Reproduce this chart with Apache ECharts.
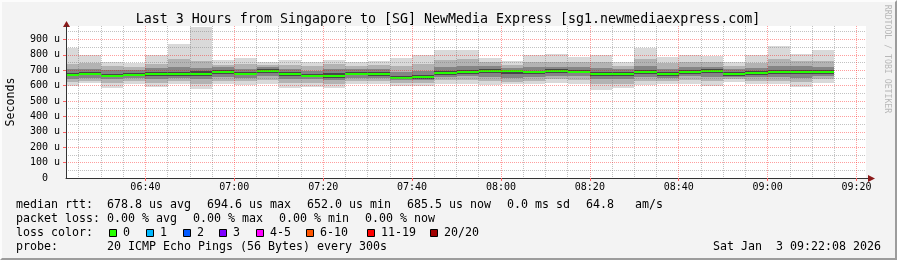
<!DOCTYPE html>
<html><head><meta charset="utf-8">
<script src="https://cdn.jsdelivr.net/npm/echarts@6/dist/echarts.min.js"></script>
<style>
html,body{margin:0;padding:0;background:#f3f3f3;}
#wrap{position:relative;width:897px;height:260px;overflow:hidden;}
#c{position:absolute;left:0;top:0;width:897px;height:260px;}
#frame{position:absolute;left:0;top:0;width:897px;height:260px;box-sizing:border-box;border-left:2px solid #fcfcfc;border-top:2px solid #fcfcfc;border-right:2px solid #9c9c9c;border-bottom:2px solid #9c9c9c;pointer-events:none;}
</style></head>
<body><div id="wrap"><div id="c"></div><div id="frame"></div></div>
<script>
// ---------- data (µs) ----------
const startTime = '06:22:08';
const endTime = '09:22:08';
const times = ['06:25','06:30','06:35','06:40','06:45','06:50','06:55','07:00','07:05','07:10',
  '07:15','07:20','07:25','07:30','07:35','07:40','07:45','07:50','07:55','08:00',
  '08:05','08:10','08:15','08:20','08:25','08:30','08:35','08:40','08:45','08:50',
  '08:55','09:00','09:05','09:10','09:15'];
const median = [672,678,665,672,677,674,678,690,678,694.6,
  674,665,665,678,674,652,655,681,690,694,
  692,686,694,690,676,673,690,674,690,694,
  674,681,690,690,685.5];
const pingMin = [599,616,583,609,592,609,577,609,603,613,583,592,583,609,609,599,599,613,613,603,609,609,616,609,570,583,603,609,609,599,625,609,609,592,620];
const p10 = [625,632,615,628,620,628,612,632,628,638,615,618,612,630,628,618,620,635,638,630,625,632,640,635,608,612,630,630,635,628,640,632,632,622,640];
const p25 = [645,650,640,648,645,650,642,655,650,660,642,640,638,650,648,634,636,655,660,655,648,658,665,660,640,640,658,652,660,655,655,655,658,650,660];
const p40 = [662,666,655,662,665,664,664,675,667,682,660,655,652,666,662,645,646,670,678,680,678,675,684,680,662,662,678,664,675,680,665,670,678,675,675];
const p60 = [685,690,678,684,690,690,692,702,690,706,688,678,680,690,686,665,668,695,702,706,702,698,705,704,690,688,702,688,702,706,688,695,704,704,700];
const p75 = [705,708,700,700,712,720,715,718,710,718,710,698,705,708,705,690,695,720,725,725,716,720,722,722,715,708,725,710,722,722,708,715,725,725,722];
const p90 = [740,745,725,722,740,770,760,735,740,732,735,725,738,730,732,725,740,765,770,750,735,755,755,750,750,728,770,745,752,750,730,745,770,760,760];
const pingMax = [843,800,752,745,800,869,982,765,778,750,765,750,765,754,761,778,797,830,830,776,761,797,804,787,800,750,843,787,800,793,754,797,854,808,830];
const xTickLabels = ['06:40','07:00','07:20','07:40','08:00','08:20','08:40','09:00','09:20'];
const yTickValues = [0,100,200,300,400,500,600,700,800,900];
const yMinorValues = [50,150,250,350,450,550,650,750,850,950];
const lossLabels = ['0','1','2','3','4-5','6-10','11-19','20/20'];
const lossColors = ['#26ff00','#00b8ff','#0059ff','#7e00ff','#ff00ff','#ff5500','#ff0000','#a10000'];

// ---------- helpers ----------
function toMin(s){const p=s.split(':').map(Number);return p[0]*60+p[1]+(p[2]||0)/60;}
function pad(n){return (n<10?'0':'')+n;}
function fmtMin(v){v=Math.round(v);return pad(Math.floor(v/60))+':'+pad(v%60);}
const T0 = toMin(startTime), T1 = toMin(endTime);
const STEP = 5;
const YMAX = 987;
const xMajor = xTickLabels.map(toMin);
const xMinor = [];
for (let t = Math.ceil(T0/STEP)*STEP; t <= T1; t += STEP) if (xMajor.indexOf(t) < 0) xMinor.push(t);

const MONO = '"DejaVu Sans Mono", monospace';
const SMOKE = ['#d9d9d9','#b3b3b3','#858585','#474747'];
const GL = 66, GR = 866, GT = 26, GB = 178;

function renderItem(params, api){
  const i = params.dataIndex;
  const tEnd = api.value(0);
  const xa = Math.round(api.coord([tEnd-STEP,0])[0]);
  const xb = Math.round(api.coord([tEnd,0])[0]);
  const yv = v => Math.round(api.coord([tEnd,v])[1]);
  const bands = [[pingMin[i],pingMax[i],SMOKE[0]],[p10[i],p90[i],SMOKE[1]],[p25[i],p75[i],SMOKE[2]],[p40[i],p60[i],SMOKE[3]]];
  const children = bands.map(b => {
    const y1 = yv(b[1]), y0 = yv(b[0]);
    return {type:'rect', shape:{x:xa,y:y1,width:xb-xa,height:y0-y1}, style:{fill:b[2]}};
  });
  const ym = yv(api.value(1));
  children.push({type:'rect', shape:{x:xa,y:ym-1,width:xb-xa,height:2}, style:{fill:'#26ff00'}});
  return {type:'group', children};
}

const graphics = [];
function txt(x,y,s,opt){
  opt = opt||{};
  graphics.push({type:'text', x:x, y:y, rotation:opt.rot||0, silent:true,
    style:{text:s, font:(opt.size||11.63)+'px '+MONO, fill:opt.color||'#000',
      textAlign:opt.align||'left', textVerticalAlign:'middle'}});
}
txt(448,19.5,'Last 3 Hours from Singapore to [SG] NewMedia Express [sg1.newmediaexpress.com]',{size:13.3,align:'center'});
txt(10.5,102,'Seconds',{rot:Math.PI/2,align:'center'});
txt(887,59,'RRDTOOL / TOBI OETIKER',{rot:-Math.PI/2,align:'center',size:8.2,color:'#b8b8b8'});
// legend lines
const L1 = 205, L2 = 219, L3 = 233, L4 = 247;
txt(16,L1,'median rtt:');
txt(107,L1,'678.8 us avg'); txt(207,L1,'694.6 us max'); txt(307,L1,'652.0 us min');
txt(407,L1,'685.5 us now'); txt(507,L1,'0.0 ms sd'); txt(586,L1,'64.8   am/s');
txt(16,L2,'packet loss:');
txt(107,L2,'0.00 % avg'); txt(193,L2,'0.00 % max'); txt(279,L2,'0.00 % min'); txt(365,L2,'0.00 % now');
txt(16,L3,'loss color:');
const swX = [109,146,183,219,256,306,367,430];
lossLabels.forEach((l,k)=>{
  graphics.push({type:'rect', silent:true, shape:{x:swX[k]+0.5,y:229.5,width:7,height:7}, style:{fill:lossColors[k],stroke:'#000',lineWidth:1}});
  txt(swX[k]+14,L3,l);
});
txt(16,L4,'probe:');
txt(107,L4,'20 ICMP Echo Pings (56 Bytes) every 300s');
txt(881,L4,'Sat Jan  3 09:22:08 2026',{align:'right'});
// axis arrows
graphics.push({type:'line', silent:true, shape:{x1:GR,y1:GB+0.5,x2:GR+4,y2:GB+0.5}, style:{stroke:'#333',lineWidth:1}});
graphics.push({type:'polygon', silent:true, shape:{points:[[GR+2,GB-3],[GR+9,GB+0.5],[GR+2,GB+4]]}, style:{fill:'#8b1a1a'}});
graphics.push({type:'line', silent:true, shape:{x1:GL+0.5,y1:GT,x2:GL+0.5,y2:GT-3}, style:{stroke:'#333',lineWidth:1}});
graphics.push({type:'polygon', silent:true, shape:{points:[[GL-3,GT+1],[GL+0.5,GT-5],[GL+4,GT+1]]}, style:{fill:'#8b1a1a'}});

const chart = echarts.init(document.getElementById('c'), null, {renderer:'canvas'});
chart.setOption({
  animation:false,
  backgroundColor:'transparent',
  grid:{left:GL, right:897-GR, top:GT, bottom:260-GB, show:true, backgroundColor:'#ffffff', borderWidth:0, z:-2, outerBoundsMode:'none'},
  xAxis:[
    {type:'value', min:T0, max:T1, position:'bottom', z:1,
     axisLine:{show:true, onZero:false, lineStyle:{color:'#333',width:1}},
     axisTick:{show:true, length:3, customValues:xMajor, lineStyle:{color:'#ff6060'}},
     axisLabel:{show:true, customValues:xMajor, formatter:fmtMin, fontFamily:MONO, fontSize:10, color:'#000', margin:4, hideOverlap:false},
     splitLine:{show:true, lineStyle:{color:'rgba(255,0,0,0.38)', width:1, type:[1,1]}}},
    {type:'value', min:T0, max:T1, position:'bottom', z:0,
     axisLine:{show:false}, axisTick:{show:false, customValues:xMinor}, axisLabel:{show:false},
     splitLine:{show:true, lineStyle:{color:'rgba(120,120,120,0.45)', width:1, type:[1,1]}}}
  ],
  yAxis:[
    {type:'value', min:0, max:YMAX, position:'left', z:1,
     axisLine:{show:true, onZero:false, lineStyle:{color:'#333',width:1}},
     axisTick:{show:true, length:3, customValues:yTickValues.slice(1), lineStyle:{color:'#ff6060'}},
     axisLabel:{show:true, customValues:yTickValues, formatter:v=>v===0?'0  ':v+' u', fontFamily:MONO, fontSize:10, color:'#000', margin:6, hideOverlap:false},
     splitLine:{show:true, lineStyle:{color:'rgba(255,0,0,0.38)', width:1, type:[1,1]}}},
    {type:'value', min:0, max:YMAX, position:'right', z:0,
     axisLine:{show:false}, axisTick:{show:false, customValues:yMinorValues}, axisLabel:{show:false},
     splitLine:{show:true, lineStyle:{color:'rgba(120,120,120,0.45)', width:1, type:[1,1]}}}
  ],
  series:[{
    type:'custom', name:'median rtt', z:-1, clip:true,
    xAxisIndex:0, yAxisIndex:0,
    renderItem:renderItem,
    encode:{x:0, y:1},
    data: times.map((t,i)=>[toMin(t), median[i]])
  }],
  graphic: graphics
});
</script>
</body></html>
